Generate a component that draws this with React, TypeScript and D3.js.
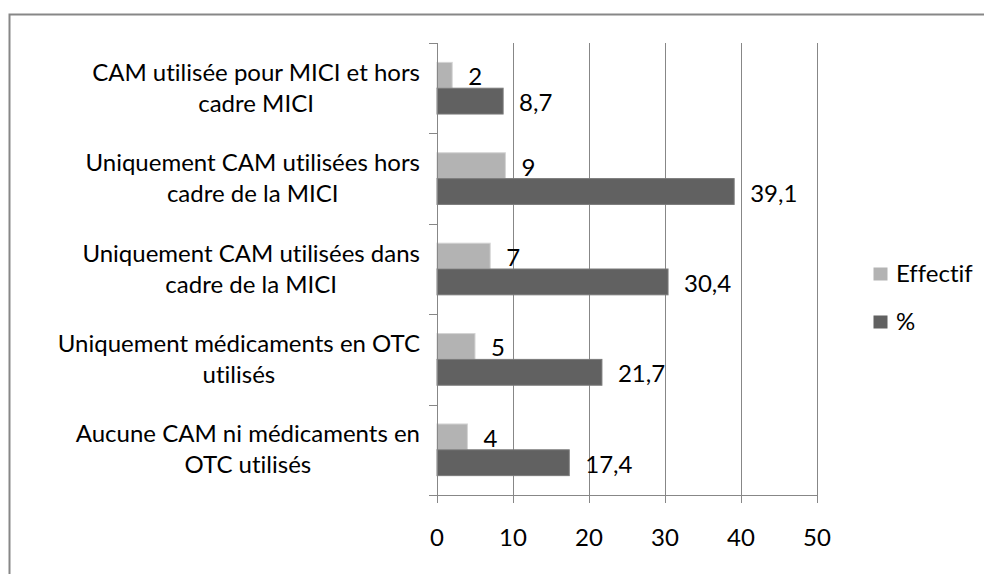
import React, { useEffect, useRef } from "react";
import * as d3 from "d3";

// categories, top to bottom, already split on the lines used in the picture
const categories = [
  "CAM utilisée pour MICI et hors cadre MICI",
  "Uniquement CAM utilisées hors cadre de la MICI",
  "Uniquement CAM utilisées dans cadre de la MICI",
  "Uniquement médicaments en OTC utilisés",
  "Aucune CAM ni médicaments en OTC utilisés",
];
const categoryLines = [
  ["CAM utilisée pour MICI et hors", "cadre MICI"],
  ["Uniquement CAM utilisées hors", "cadre de la MICI"],
  ["Uniquement CAM utilisées dans", "cadre de la MICI"],
  ["Uniquement médicaments en OTC", "utilisés"],
  ["Aucune CAM ni médicaments en", "OTC utilisés"],
];
const seriesNames = ["Effectif", "%"];
const effectif = [2, 9, 7, 5, 4];
const percent = [8.7, 39.1, 30.4, 21.7, 17.4];
const xTicks = [0, 10, 20, 30, 40, 50];

const colors = { Effectif: "#b3b3b3", "%": "#616161" };
const strokes = { Effectif: "#d4d4d4", "%": "#7a7a7a" };
const axisColor = "#878787";
const font = "Lato, 'Open Sans', sans-serif";
const fontSize = 24;

const width = 984;
const height = 574;

export default function App() {
  const ref = useRef<SVGSVGElement>(null);

  useEffect(() => {
    const svg = d3.select(ref.current);
    svg.selectAll("*").remove();
    svg.style("font-variant-ligatures", "none");

    const fr = d3.formatLocale({
      decimal: ",",
      thousands: " ",
      grouping: [3],
      currency: ["", " €"],
    });
    const fmt = (v: number) => (Number.isInteger(v) ? String(v) : fr.format(".1f")(v));

    const plot = { left: 437, right: 817, top: 43, bottom: 495 };

    const x = d3.scaleLinear().domain([0, 50]).range([plot.left, plot.right]);
    const y = d3.scaleBand().domain(categories).range([plot.top, plot.bottom]);
    const ySub = d3
      .scaleBand()
      .domain(seriesNames)
      .range([0, y.bandwidth()])
      .paddingInner(0)
      .paddingOuter(0.75);

    // chart border (runs off the right and bottom of the picture)
    svg
      .append("rect")
      .attr("x", 9.5)
      .attr("y", 14.5)
      .attr("width", 1100)
      .attr("height", 700)
      .attr("fill", "none")
      .attr("stroke", axisColor)
      .attr("stroke-width", 2);

    // vertical gridlines
    svg
      .append("g")
      .selectAll("line")
      .data(xTicks.filter((t) => t > 0))
      .join("line")
      .attr("x1", (d) => Math.round(x(d)) + 0.5)
      .attr("x2", (d) => Math.round(x(d)) + 0.5)
      .attr("y1", plot.top)
      .attr("y2", plot.bottom)
      .attr("stroke", axisColor)
      .attr("stroke-width", 1);

    // bars
    const rows = categories.map((c, i) => ({
      cat: c,
      values: [
        { key: "Effectif", v: effectif[i] },
        { key: "%", v: percent[i] },
      ],
    }));

    const groups = svg
      .append("g")
      .selectAll("g")
      .data(rows)
      .join("g")
      .attr("transform", (d) => `translate(0,${y(d.cat)})`);

    groups
      .selectAll("rect")
      .data((d) => d.values)
      .join("rect")
      .attr("x", x(0))
      .attr("y", (d) => ySub(d.key)!)
      .attr("width", (d) => x(d.v) - x(0))
      .attr("height", ySub.bandwidth())
      .attr("fill", (d) => colors[d.key as keyof typeof colors])
      .attr("stroke", (d) => strokes[d.key as keyof typeof strokes])
      .attr("stroke-width", 1);

    // data labels
    groups
      .selectAll("text")
      .data((d) => d.values)
      .join("text")
      .attr("x", (d) => x(d.v) + 16)
      .attr("y", (d) => ySub(d.key)! + ySub.bandwidth() / 2 + 10)
      .attr("font-family", font)
      .attr("font-size", fontSize)
      .attr("fill", "#000")
      .text((d) => fmt(d.v));

    // y axis line + ticks at category boundaries
    svg
      .append("line")
      .attr("x1", plot.left + 0.5)
      .attr("x2", plot.left + 0.5)
      .attr("y1", plot.top)
      .attr("y2", plot.bottom)
      .attr("stroke", axisColor);

    const boundaries = categories.map((c) => y(c)!).concat([plot.bottom]);
    svg
      .append("g")
      .selectAll("line")
      .data(boundaries)
      .join("line")
      .attr("x1", plot.left - 8)
      .attr("x2", plot.left)
      .attr("y1", (d) => Math.round(d) + 0.5)
      .attr("y2", (d) => Math.round(d) + 0.5)
      .attr("stroke", axisColor);

    // x axis line + ticks + labels
    svg
      .append("line")
      .attr("x1", plot.left)
      .attr("x2", plot.right + 1)
      .attr("y1", plot.bottom + 0.5)
      .attr("y2", plot.bottom + 0.5)
      .attr("stroke", axisColor);

    svg
      .append("g")
      .selectAll("line")
      .data(xTicks)
      .join("line")
      .attr("x1", (d) => Math.round(x(d)) + 0.5)
      .attr("x2", (d) => Math.round(x(d)) + 0.5)
      .attr("y1", plot.bottom)
      .attr("y2", plot.bottom + 8)
      .attr("stroke", axisColor);

    svg
      .append("g")
      .selectAll("text")
      .data(xTicks)
      .join("text")
      .attr("x", (d) => x(d))
      .attr("y", 546)
      .attr("text-anchor", "middle")
      .attr("font-family", font)
      .attr("font-size", fontSize)
      .attr("fill", "#000")
      .text((d) => d);

    // category labels: lines centred on each other, block right-aligned to the axis
    const labelRight = 420;
    const lineHeight = 31;
    categories.forEach((c, i) => {
      const lines = categoryLines[i];
      const cy = y(c)! + y.bandwidth() / 2;
      const g = svg.append("g");
      const texts = g
        .selectAll("text")
        .data(lines)
        .join("text")
        .attr("y", (_, j) => cy + (j - (lines.length - 1) / 2) * lineHeight + 8)
        .attr("text-anchor", "middle")
        .attr("font-family", font)
        .attr("font-size", fontSize)
        .attr("fill", "#000")
        .text((d) => d);
      let maxW = 0;
      texts.each(function () {
        maxW = Math.max(maxW, (this as SVGTextElement).getComputedTextLength());
      });
      texts.attr("x", labelRight - maxW / 2);
    });

    // legend
    const legend = svg
      .append("g")
      .selectAll("g")
      .data(seriesNames)
      .join("g")
      .attr("transform", (_, i) => `translate(873.5,${267.5 + i * 48})`);
    legend
      .append("rect")
      .attr("width", 14)
      .attr("height", 13)
      .attr("fill", (d) => colors[d as keyof typeof colors]);
    legend
      .append("text")
      .attr("x", 22.5)
      .attr("y", 14.5)
      .attr("font-family", font)
      .attr("font-size", fontSize)
      .attr("fill", "#000")
      .text((d) => d);
  }, []);

  return (
    <svg
      ref={ref}
      width={width}
      height={height}
      style={{ position: "absolute", left: 0, top: 0, background: "#fff" }}
    />
  );
}
